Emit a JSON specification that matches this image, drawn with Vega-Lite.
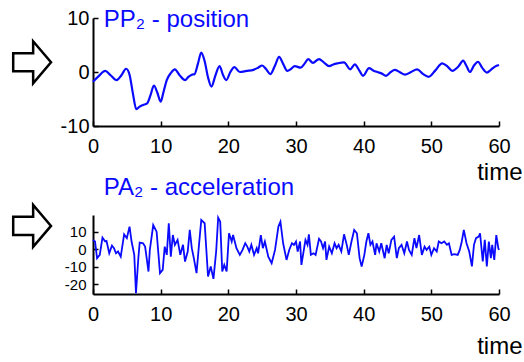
{
  "$schema": "https://vega.github.io/schema/vega-lite/v6.json",
  "background": "white",
  "padding": {"left": 8, "top": 8, "right": 2, "bottom": 5},
  "bounds": "flush",
  "spacing": 89,
  "config": {
    "view": {"stroke": null},
    "font": "Liberation Sans",
    "axis": {
      "grid": false,
      "domainColor": "black",
      "domainWidth": 2,
      "tickColor": "black",
      "tickWidth": 1.5,
      "labelColor": "black",
      "labelFlush": false,
      "labelOverlap": false,
      "labelBound": false,
      "titleColor": "black",
      "titleFontWeight": "normal"
    }
  },
  "datasets": {
    "pos": [
      {"t":0,"v":-1.8},{"t":0.8,"v":-0.8},{"t":1.8,"v":0.2},{"t":2.6,"v":-0.6},{"t":3.5,"v":-1.5},{"t":4.2,"v":-0.6},{"t":4.9,"v":0.6},{"t":5.4,"v":-0.5},{"t":5.9,"v":-4},{"t":6.4,"v":-6.9},{"t":6.9,"v":-6.4},{"t":7.4,"v":-6.1},{"t":8,"v":-5.8},{"t":8.5,"v":-4.3},{"t":9,"v":-2.5},{"t":9.5,"v":-3.8},{"t":10,"v":-5.5},{"t":10.4,"v":-3.8},{"t":10.9,"v":-1.5},{"t":11.5,"v":-0.2},{"t":12.1,"v":0.5},{"t":12.8,"v":-0.6},{"t":13.6,"v":-1.5},{"t":14.1,"v":-0.9},{"t":14.6,"v":-0.5},{"t":15,"v":-0.4},{"t":15.5,"v":1.5},{"t":16,"v":3.6},{"t":16.5,"v":2},{"t":17,"v":-1},{"t":17.5,"v":-2.7},{"t":18.1,"v":-0.6},{"t":18.7,"v":1.1},{"t":19.2,"v":-0.5},{"t":19.7,"v":-1.5},{"t":20.3,"v":0},{"t":20.9,"v":0.9},{"t":21.7,"v":0},{"t":22.7,"v":0.2},{"t":23.7,"v":0.4},{"t":24.4,"v":0.8},{"t":25,"v":1.2},{"t":25.6,"v":0.5},{"t":26.2,"v":-0.4},{"t":26.9,"v":1.2},{"t":27.5,"v":2.8},{"t":28.1,"v":1.5},{"t":28.7,"v":0.2},{"t":29.3,"v":0.6},{"t":29.8,"v":1.1},{"t":30.7,"v":0.8},{"t":31.3,"v":1.6},{"t":31.8,"v":2.4},{"t":32.5,"v":1.7},{"t":33.4,"v":2.4},{"t":34.1,"v":1.8},{"t":34.9,"v":1.1},{"t":35.5,"v":1.4},{"t":36.1,"v":1.6},{"t":37.1,"v":1.8},{"t":38,"v":0.5},{"t":38.7,"v":1.4},{"t":39.3,"v":0.4},{"t":39.9,"v":-0.7},{"t":40.8,"v":0.7},{"t":41.4,"v":0.3},{"t":42,"v":0},{"t":42.7,"v":-0.3},{"t":43.3,"v":-0.7},{"t":44,"v":0},{"t":44.6,"v":0.4},{"t":45.3,"v":0},{"t":46.1,"v":-0.5},{"t":47,"v":0},{"t":47.9,"v":0.5},{"t":48.8,"v":-0.4},{"t":49.6,"v":-0.9},{"t":50.6,"v":0.3},{"t":51.6,"v":1.6},{"t":52.4,"v":1},{"t":53.1,"v":0.2},{"t":54,"v":1},{"t":54.7,"v":2.1},{"t":55.2,"v":1.1},{"t":55.7,"v":0},{"t":56.3,"v":1.2},{"t":56.9,"v":1.9},{"t":57.5,"v":0.8},{"t":58.2,"v":-0.1},{"t":58.8,"v":0.4},{"t":59.4,"v":1},{"t":60,"v":1.3}
    ],
    "acc": [
      {"t":0,"v":5.3},{"t":0.3,"v":4.4},{"t":0.6,"v":-5.1},{"t":1.0,"v":-3.2},{"t":1.4,"v":6.6},{"t":1.8,"v":4.4},{"t":2.0,"v":4.7},{"t":2.4,"v":-2.3},{"t":2.8,"v":2.1},{"t":3.1,"v":0.6},{"t":3.4,"v":-2.3},{"t":3.7,"v":-1.3},{"t":4.1,"v":-4.2},{"t":4.6,"v":8.5},{"t":5.0,"v":6.3},{"t":5.4,"v":12.9},{"t":5.7,"v":4.4},{"t":6.1,"v":-3.2},{"t":6.35,"v":-25},{"t":6.7,"v":-5.1},{"t":6.9,"v":3.8},{"t":7.4,"v":3.4},{"t":7.7,"v":1.5},{"t":8.2,"v":-12.7},{"t":8.4,"v":-0.4},{"t":8.9,"v":13.8},{"t":9.4,"v":10},{"t":9.9,"v":-13.6},{"t":10.3,"v":-11.7},{"t":10.6,"v":1.5},{"t":10.9,"v":-3.2},{"t":11.2,"v":14.8},{"t":11.5,"v":-4.2},{"t":11.8,"v":8.1},{"t":12.1,"v":2.5},{"t":12.5,"v":5.3},{"t":12.9,"v":-3.2},{"t":13.3,"v":2.5},{"t":13.6,"v":-7},{"t":14.0,"v":-1.3},{"t":14.3,"v":11},{"t":14.6,"v":0.6},{"t":14.9,"v":-5.1},{"t":15.3,"v":-13.6},{"t":15.6,"v":-0.4},{"t":16.0,"v":16.7},{"t":16.5,"v":14.8},{"t":17.0,"v":-15.5},{"t":17.4,"v":-9.8},{"t":17.8,"v":-16.9},{"t":18.2,"v":-1.3},{"t":18.5,"v":18},{"t":18.8,"v":15.7},{"t":19.1,"v":-12.7},{"t":19.4,"v":-8.9},{"t":19.75,"v":-12.7},{"t":20.1,"v":9.1},{"t":20.5,"v":4.4},{"t":20.7,"v":8.1},{"t":21.2,"v":0.6},{"t":21.7,"v":-3.2},{"t":22.1,"v":-0.4},{"t":22.5,"v":3.4},{"t":22.8,"v":1.5},{"t":23.1,"v":-1.3},{"t":23.4,"v":2.5},{"t":23.8,"v":-3.2},{"t":24.2,"v":0.6},{"t":24.4,"v":-2.3},{"t":24.8,"v":8.1},{"t":25.1,"v":0.6},{"t":25.4,"v":4.4},{"t":25.9,"v":-4.2},{"t":26.4,"v":-8},{"t":26.9,"v":-0.4},{"t":27.4,"v":12.9},{"t":27.7,"v":15.7},{"t":28.1,"v":3.4},{"t":28.6,"v":-6.1},{"t":29.0,"v":-0.4},{"t":29.4,"v":3.4},{"t":29.7,"v":2.5},{"t":30.0,"v":4.4},{"t":30.25,"v":-1.3},{"t":30.6,"v":4.4},{"t":30.8,"v":-8.9},{"t":31.2,"v":0.6},{"t":31.4,"v":5.3},{"t":31.7,"v":2.5},{"t":31.9,"v":8.5},{"t":32.2,"v":-3.2},{"t":32.6,"v":-2.3},{"t":32.9,"v":-3.2},{"t":33.4,"v":5.9},{"t":33.7,"v":4.4},{"t":34.0,"v":0.6},{"t":34.3,"v":4.4},{"t":34.5,"v":-6.1},{"t":34.9,"v":1.5},{"t":35.3,"v":-2.3},{"t":35.7,"v":3.4},{"t":36.0,"v":0.6},{"t":36.3,"v":2.5},{"t":36.7,"v":-1.3},{"t":37.1,"v":8.5},{"t":37.5,"v":2.5},{"t":37.8,"v":-3.2},{"t":38.2,"v":4.4},{"t":38.6,"v":11},{"t":39.0,"v":9.1},{"t":39.4,"v":-5.1},{"t":39.7,"v":-9.8},{"t":40.1,"v":-3.2},{"t":40.4,"v":4.4},{"t":40.7,"v":9.1},{"t":41.0,"v":2.5},{"t":41.3,"v":4.4},{"t":41.7,"v":-3.2},{"t":41.9,"v":3.4},{"t":42.3,"v":-1.3},{"t":42.6,"v":3.4},{"t":43.1,"v":-5.1},{"t":43.4,"v":2.5},{"t":43.7,"v":-2.3},{"t":44.1,"v":5.3},{"t":44.5,"v":7.2},{"t":44.9,"v":-5.1},{"t":45.2,"v":0.6},{"t":45.6,"v":2.5},{"t":46.0,"v":-2.3},{"t":46.4,"v":4.4},{"t":46.7,"v":-0.4},{"t":47.1,"v":-3.2},{"t":47.5,"v":6.3},{"t":47.8,"v":0.6},{"t":48.2,"v":8.1},{"t":48.6,"v":-3.2},{"t":49.0,"v":1.5},{"t":49.3,"v":-0.4},{"t":49.7,"v":1.5},{"t":50.0,"v":-3.2},{"t":50.4,"v":0.6},{"t":50.8,"v":-1.3},{"t":51.1,"v":4.4},{"t":51.5,"v":3.4},{"t":51.9,"v":4.4},{"t":52.3,"v":2.5},{"t":52.6,"v":3.4},{"t":53.0,"v":-3.2},{"t":53.4,"v":-2.8},{"t":53.9,"v":-3.2},{"t":54.2,"v":-0.4},{"t":54.5,"v":4.4},{"t":54.8,"v":11},{"t":55.2,"v":3.4},{"t":55.6,"v":-1.3},{"t":56.0,"v":-9.8},{"t":56.3,"v":2.5},{"t":56.6,"v":6.3},{"t":57.0,"v":7.2},{"t":57.2,"v":9.1},{"t":57.6,"v":-7},{"t":57.9,"v":5.3},{"t":58.2,"v":-9.8},{"t":58.5,"v":4.4},{"t":58.8,"v":-5.1},{"t":59.0,"v":2.5},{"t":59.3,"v":-6.1},{"t":59.6,"v":8.1},{"t":59.9,"v":0.6},{"t":60.0,"v":-0.4}
    ],
    "decor": [
      {"panel":"pos","t":-9.0,"v":1.8,"label":"PP₂ - position","tt":1.6,"tv":8.3},
      {"panel":"acc","t":-9.0,"v":13.3,"label":"PA₂  - acceleration","tt":1.6,"tv":30.7}
    ]
  },
  "vconcat": [
    {
      "width": 406,
      "height": 108,
      "encoding": {
        "x": {"type": "quantitative", "scale": {"domain": [0, 60], "nice": false},
          "axis": {"values": [0,10,20,30,40,50,60], "labelFontSize": 20, "tickSize": -5, "labelPadding": 15, "labelOverlap": false,
            "title": "time", "titleFontSize": 24, "titleAlign": "right", "titleAnchor": "end", "titleBaseline": "alphabetic", "titleX": 429, "titleY": 53}},
        "y": {"type": "quantitative", "scale": {"domain": [-10, 10], "nice": false},
          "axis": {"values": [-10,0,10], "labelFontSize": 20, "tickSize": -5, "labelPadding": 9, "labelOverlap": false, "labelExpr": "datum.value + ''", "title": null}}
      },
      "layer": [
        {
          "data": {"name": "pos"},
          "mark": {"type": "line", "color": "#0a0aff", "strokeWidth": 2.2, "interpolate": "monotone"},
          "encoding": {"x": {"field": "t"}, "y": {"field": "v"}}
        },
        {
          "data": {"name": "decor"},
          "transform": [{"filter": "datum.panel == 'pos'"}],
          "mark": {"type": "point", "shape": "M -0.9 -0.43 L 0.05 -0.43 L 0.05 -1 L 0.9 0 L 0.05 1 L 0.05 0.43 L -0.9 0.43 Z", "filled": true, "fill": "white", "stroke": "black", "strokeWidth": 2.5, "size": 1764, "opacity": 1},
          "encoding": {"x": {"field": "t"}, "y": {"field": "v"}}
        },
        {
          "data": {"name": "decor"},
          "transform": [{"filter": "datum.panel == 'pos'"}],
          "mark": {"type": "text", "align": "left", "baseline": "alphabetic", "fontSize": 24, "color": "#0a0aff"},
          "encoding": {"x": {"field": "tt"}, "y": {"field": "tv"}, "text": {"field": "label"}}
        }
      ]
    },
    {
      "width": 406,
      "height": 79,
      "encoding": {
        "x": {"type": "quantitative", "scale": {"domain": [0, 60], "nice": false},
          "axis": {"values": [0,10,20,30,40,50,60], "labelFontSize": 20, "tickSize": -5, "labelPadding": 15, "labelOverlap": false,
            "title": "time", "titleFontSize": 24, "titleAlign": "right", "titleAnchor": "end", "titleBaseline": "alphabetic", "titleX": 429, "titleY": 59}},
        "y": {"type": "quantitative", "scale": {"domain": [-25.5, 19.5], "nice": false},
          "axis": {"values": [-20,-10,0,10], "labelFontSize": 15, "tickSize": -5, "labelPadding": 12, "labelOverlap": false, "labelExpr": "datum.value + ''", "title": null}}
      },
      "layer": [
        {
          "data": {"name": "acc"},
          "mark": {"type": "line", "color": "#0a0aff", "strokeWidth": 1.8},
          "encoding": {"x": {"field": "t"}, "y": {"field": "v"}}
        },
        {
          "data": {"name": "decor"},
          "transform": [{"filter": "datum.panel == 'acc'"}],
          "mark": {"type": "point", "shape": "M -0.9 -0.43 L 0.05 -0.43 L 0.05 -1 L 0.9 0 L 0.05 1 L 0.05 0.43 L -0.9 0.43 Z", "filled": true, "fill": "white", "stroke": "black", "strokeWidth": 2.5, "size": 1764, "opacity": 1},
          "encoding": {"x": {"field": "t"}, "y": {"field": "v"}}
        },
        {
          "data": {"name": "decor"},
          "transform": [{"filter": "datum.panel == 'acc'"}],
          "mark": {"type": "text", "align": "left", "baseline": "alphabetic", "fontSize": 24, "color": "#0a0aff"},
          "encoding": {"x": {"field": "tt"}, "y": {"field": "tv"}, "text": {"field": "label"}}
        }
      ]
    }
  ]
}
